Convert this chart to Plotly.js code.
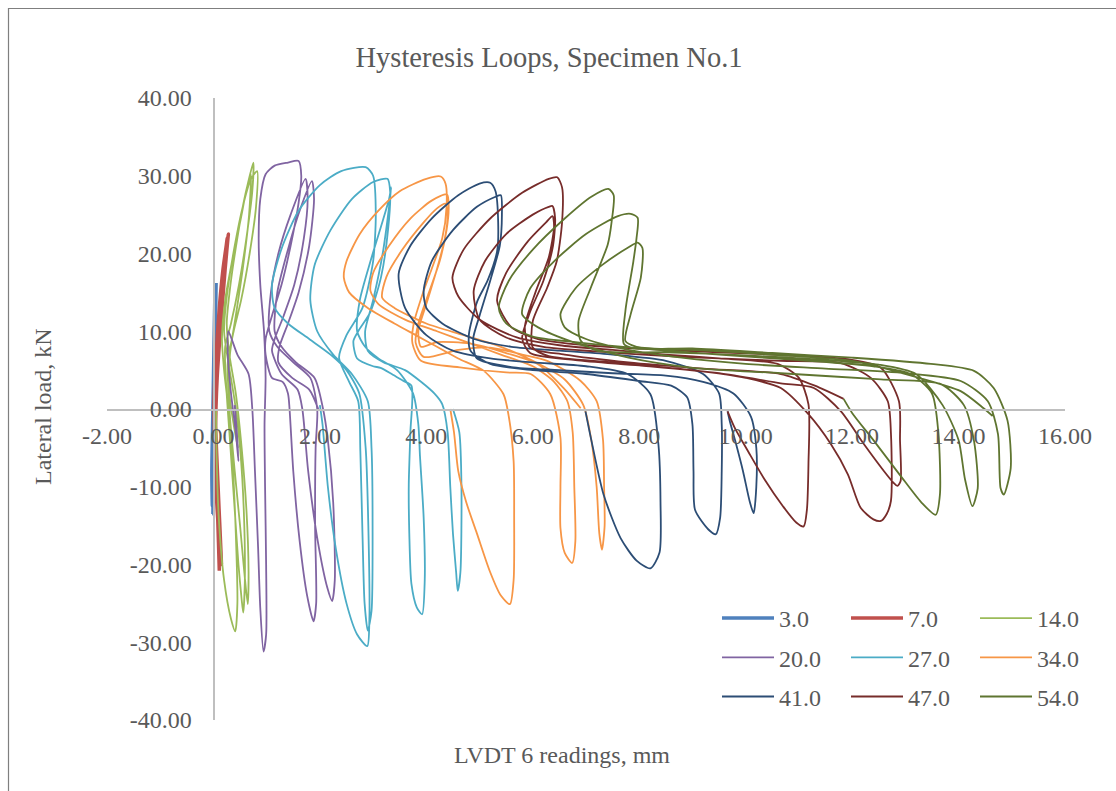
<!DOCTYPE html>
<html>
<head>
<meta charset="utf-8">
<script src="https://cdn.plot.ly/plotly-3.0.1.min.js"></script>
<style>
  html, body { margin: 0; padding: 0; background: #ffffff; }
  #chart { width: 1116px; height: 791px; }
</style>
</head>
<body>
<div id="chart"></div>
<script>
// ---- Data ----
const seriesNames = ['3.0', '7.0', '14.0', '20.0', '27.0', '34.0', '41.0', '47.0', '54.0'];

const x3 = [0.00, 0.02, 0.04, 0.05, 0.03, 0.01, -0.01, -0.02, -0.01, 0.00, 0.02, 0.04, 0.03, 0.01, -0.01, -0.03, -0.02, 0.00];
const y3 = [0.0, 6.0, 12.0, 16.2, 10.0, 3.0, -4.0, -10.0, -13.5, -6.0, 2.0, 10.0, 15.0, 8.0, 0.0, -8.0, -12.5, -3.0];

const x7 = [0.02, 0.06, 0.12, 0.19, 0.25, 0.28, 0.22, 0.14, 0.07, 0.04, 0.06, 0.09, 0.11, 0.08, 0.03, 0.01, 0.05, 0.11, 0.18, 0.24, 0.26, 0.19, 0.11, 0.05, 0.03, 0.07, 0.13, 0.15, 0.10, 0.05, 0.03];
const y7 = [0.0, 6.0, 12.0, 17.0, 20.5, 22.5, 18.0, 11.0, 4.0, -3.0, -10.0, -16.0, -20.8, -14.0, -6.0, 1.0, 7.0, 13.0, 18.0, 21.0, 22.0, 16.0, 9.0, 2.0, -6.0, -13.0, -18.5, -20.0, -12.0, -4.0, 0.0];

const x14 = [0.05, 0.06, 0.10, 0.20, 0.33, 0.41, 0.45, 0.42, 0.36, 0.28, 0.20, 0.16, 0.22, 0.35, 0.50, 0.63, 0.75, 0.73, 0.62, 0.48, 0.33, 0.22, 0.24, 0.32, 0.40, 0.47, 0.53, 0.56, 0.59, 0.57, 0.50, 0.40, 0.28, 0.20, 0.26, 0.40, 0.55, 0.70, 0.82, 0.80, 0.68, 0.52, 0.38, 0.27, 0.30, 0.40, 0.50, 0.58, 0.645, 0.66, 0.62, 0.53, 0.42, 0.30, 0.25, 0.32, 0.45, 0.58, 0.70, 0.67, 0.55, 0.42, 0.31, 0.30, 0.38, 0.46];
const y14 = [0.0, -6.0, -14.0, -22.0, -27.0, -28.6, -25.0, -16.0, -7.0, 0.0, 5.0, 9.0, 14.0, 19.0, 24.0, 28.5, 31.7, 28.0, 22.0, 16.0, 11.0, 8.0, 3.0, -5.0, -13.0, -20.0, -24.5, -26.2, -22.0, -13.0, -5.0, 1.0, 6.0, 10.0, 15.0, 21.0, 26.0, 29.5, 30.6, 26.0, 20.0, 14.0, 10.0, 6.0, 0.0, -8.0, -15.0, -21.0, -25.1, -21.0, -13.0, -5.0, 2.0, 7.0, 11.0, 16.0, 22.0, 27.0, 30.2, 25.0, 18.0, 12.0, 7.0, 2.0, -2.0, -5.0];

const x20 = [0.40, 0.44, 0.47, 0.42, 0.33, 0.27, 0.28, 0.45, 0.66, 0.73, 0.78, 0.84, 0.88, 0.94, 0.99, 0.99, 0.97, 0.96, 0.98, 0.95, 0.88, 0.85, 0.88, 0.98, 1.15, 1.40, 1.60, 1.65, 1.60, 1.45, 1.28, 1.10, 0.98, 0.98, 1.10, 1.30, 1.40, 1.43, 1.50, 1.62, 1.76, 1.88, 1.93, 1.91, 1.92, 1.95, 1.82, 1.50, 1.20, 1.05, 1.08, 1.22, 1.45, 1.73, 1.77, 1.70, 1.52, 1.32, 1.15, 1.10, 1.28, 1.58, 1.67, 1.78, 1.96, 2.14, 2.23, 2.28, 2.25, 2.15, 2.06, 1.90, 1.55, 1.28, 1.15, 1.20, 1.38, 1.62, 1.85, 1.89, 1.80, 1.60, 1.40, 1.24, 1.22, 1.48, 1.80, 1.97];
const y20 = [0.5, -3.0, -6.7, -3.0, 2.0, 7.0, 10.0, 7.0, 4.5, 0.0, -8.0, -18.0, -25.6, -31.2, -29.0, -20.0, -10.0, -2.0, 4.0, 10.0, 16.0, 22.0, 27.0, 30.2, 31.3, 31.7, 31.9, 30.0, 26.5, 21.0, 16.0, 12.0, 9.0, 7.0, 4.0, 3.5, 2.0, 0.0, -8.0, -17.0, -24.0, -27.3, -25.0, -15.0, -5.0, 0.0, 4.0, 6.0, 8.0, 10.0, 15.0, 20.0, 25.0, 29.6, 27.0, 22.0, 16.0, 12.0, 9.0, 7.5, 4.5, 2.5, 0.0, -8.0, -17.0, -23.0, -24.7, -22.0, -12.0, -4.0, 0.0, 4.0, 6.0, 8.0, 10.0, 15.0, 20.0, 25.5, 29.3, 27.0, 21.0, 15.0, 11.0, 8.0, 6.0, 4.0, 2.5, 0.0];

const x27 = [2.00, 2.05, 2.15, 2.30, 2.50, 2.70, 2.89, 2.93, 2.91, 2.86, 2.74, 2.50, 2.20, 1.80, 1.40, 1.15, 1.10, 1.30, 1.60, 2.00, 2.40, 2.86, 3.00, 3.05, 3.00, 2.80, 2.50, 2.36, 2.55, 2.72, 2.76, 2.80, 2.84, 2.90, 2.97, 2.99, 2.97, 2.90, 2.60, 2.25, 1.95, 1.82, 1.90, 2.20, 2.60, 3.00, 3.27, 3.32, 3.28, 3.15, 2.95, 2.72, 2.63, 2.70, 3.00, 3.14, 3.35, 3.57, 3.72, 3.70, 3.67, 3.68, 3.72, 3.82, 3.92, 3.97, 3.95, 3.88, 3.85, 3.75, 3.45, 3.10, 2.85, 2.70, 2.75, 2.95, 3.15, 3.30, 3.34, 3.30, 3.18, 3.00, 2.85, 2.90, 3.20, 3.60, 3.90, 4.15, 4.30, 4.40, 4.45, 4.50, 4.56, 4.59, 4.64, 4.66, 4.62, 4.50];
const y27 = [0.5, -2.0, -10.0, -18.0, -25.0, -29.0, -30.5, -27.0, -15.0, -5.0, 2.0, 5.0, 7.0, 9.0, 11.0, 13.0, 16.0, 21.0, 25.5, 28.8, 30.6, 31.1, 30.0, 25.0, 19.0, 13.0, 9.5, 6.6, 3.5, 1.0, -5.4, -16.0, -25.0, -28.5, -26.0, -15.0, -5.0, 1.0, 4.5, 7.0, 10.0, 14.0, 18.5, 23.0, 27.0, 29.2, 29.6, 28.0, 23.0, 17.0, 12.5, 10.0, 8.75, 6.5, 5.5, 5.3, 4.5, 3.6, 3.0, -3.0, -9.7, -16.0, -22.5, -25.5, -26.4, -22.0, -14.0, -6.0, -2.0, 2.0, 5.0, 6.5, 8.0, 10.0, 14.0, 19.0, 23.5, 27.0, 28.5, 26.0, 20.0, 14.0, 10.0, 7.5, 6.0, 5.0, 3.5, 2.0, 0.6, -3.0, -10.0, -16.0, -21.0, -23.4, -21.0, -10.0, -3.0, 0.0];

const x34 = [4.45, 4.52, 4.60, 4.75, 4.95, 5.20, 5.40, 5.57, 5.64, 5.65, 5.64, 5.55, 5.45, 5.08, 4.60, 4.20, 3.80, 3.40, 2.90, 2.55, 2.45, 2.50, 2.75, 3.10, 3.50, 4.00, 4.27, 4.36, 4.38, 4.30, 4.10, 3.95, 3.76, 3.74, 3.90, 4.70, 5.50, 5.96, 6.33, 6.52, 6.52, 6.52, 6.60, 6.74, 6.80, 6.78, 6.75, 6.65, 6.40, 6.00, 5.40, 4.80, 4.20, 3.60, 3.10, 2.95, 3.00, 3.30, 3.70, 4.10, 4.39, 4.42, 4.38, 4.25, 4.05, 3.85, 3.80, 3.95, 4.60, 5.20, 5.80, 6.27, 6.90, 7.20, 7.32, 7.34, 7.35, 7.30, 7.25, 7.20, 7.10, 6.95, 6.60, 6.00, 5.40, 4.70, 4.00, 3.40, 3.17, 3.25, 3.55, 3.95, 4.20, 4.36, 4.40, 4.35, 4.20, 4.00, 3.85, 3.90, 4.20, 4.83, 5.50, 6.09, 6.58, 6.90];
const y34 = [0.0, -3.0, -8.0, -12.0, -16.0, -21.0, -24.0, -25.1, -22.0, -14.0, -6.7, -1.0, 1.9, 4.9, 6.5, 8.0, 9.5, 11.0, 13.0, 15.0, 16.9, 19.0, 22.5, 25.5, 28.0, 29.6, 29.9, 29.0, 26.0, 22.0, 18.0, 15.2, 10.9, 8.4, 6.2, 5.3, 4.7, 4.5, 1.9, -3.7, -10.0, -15.3, -18.5, -19.8, -17.0, -10.0, -3.0, 1.0, 3.5, 5.5, 7.0, 8.5, 10.0, 11.5, 13.5, 15.2, 17.5, 21.0, 24.5, 26.8, 27.6, 26.0, 23.0, 19.0, 15.0, 11.0, 8.5, 6.7, 7.6, 7.9, 7.0, 6.2, 3.6, 1.0, -4.0, -10.0, -15.0, -18.1, -16.0, -10.0, -4.0, 0.5, 3.8, 6.2, 8.0, 9.5, 11.0, 13.0, 14.3, 17.0, 20.5, 24.0, 25.8, 26.4, 25.0, 22.0, 18.0, 13.5, 10.0, 8.0, 8.6, 8.4, 7.2, 5.8, 2.7, 0.1];

const x41 = [6.99, 7.10, 7.33, 7.65, 7.95, 8.21, 8.38, 8.40, 8.36, 8.21, 7.78, 7.00, 6.00, 5.20, 4.50, 4.00, 3.60, 3.48, 3.70, 4.10, 4.60, 5.00, 5.20, 5.30, 5.35, 5.33, 5.15, 4.96, 4.80, 4.83, 5.20, 6.00, 7.00, 8.00, 8.60, 8.90, 9.00, 9.02, 9.05, 9.30, 9.44, 9.52, 9.55, 9.55, 9.50, 9.20, 8.50, 7.50, 6.50, 5.60, 4.90, 4.30, 4.00, 3.95, 4.10, 4.50, 4.95, 5.30, 5.40, 5.42, 5.38, 5.20, 5.00, 4.88, 4.95, 5.60, 6.50, 7.50, 8.50, 9.20, 9.77, 10.10, 10.20, 10.20, 10.15, 10.08, 9.95, 9.80, 9.70, 9.66];
const y41 = [-0.3, -4.0, -11.0, -16.6, -19.5, -20.5, -18.5, -12.0, -4.5, 1.9, 4.5, 5.5, 6.0, 6.5, 7.5, 9.5, 13.0, 17.4, 21.0, 24.5, 27.5, 29.0, 29.1, 28.0, 24.0, 20.3, 16.5, 13.9, 9.6, 7.5, 5.8, 5.0, 4.5, 3.6, 3.0, 1.5, -2.0, -8.0, -13.0, -15.5, -16.1, -14.0, -8.0, -2.0, 2.0, 4.5, 6.2, 7.0, 7.5, 8.0, 9.0, 11.0, 13.0, 15.2, 19.0, 23.0, 26.0, 27.3, 27.5, 25.0, 21.0, 16.5, 12.0, 9.0, 6.5, 5.4, 5.0, 4.6, 4.3, 3.5, 2.0, -1.0, -5.0, -10.0, -13.4, -12.0, -8.0, -4.0, -1.5, -0.3];

const x47 = [9.66, 9.80, 10.05, 10.35, 10.70, 10.95, 11.09, 11.15, 11.18, 11.18, 11.00, 10.60, 9.50, 8.50, 7.50, 6.50, 5.70, 5.00, 4.60, 4.49, 4.70, 5.20, 5.80, 6.30, 6.46, 6.55, 6.55, 6.45, 6.27, 6.00, 6.00, 6.30, 7.50, 9.00, 10.00, 10.66, 11.17, 11.60, 11.92, 12.16, 12.40, 12.54, 12.65, 12.73, 12.73, 12.67, 12.35, 11.79, 10.66, 9.50, 8.30, 7.20, 6.20, 5.50, 5.00, 4.89, 5.10, 5.50, 6.00, 6.30, 6.37, 6.42, 6.38, 6.20, 5.95, 5.80, 5.95, 6.80, 8.00, 9.50, 10.66, 11.28, 11.79, 12.22, 12.60, 12.78, 12.85, 12.91, 12.90, 12.88, 12.54, 11.92, 10.80, 9.50, 8.20, 7.00, 6.10, 5.60, 5.33, 5.50, 5.90, 6.25, 6.37, 6.40, 6.30, 6.05, 5.85, 5.95, 6.60, 7.80, 9.20, 10.66, 11.30, 11.84];
const y47 = [-0.3, -2.5, -5.5, -9.0, -12.5, -14.6, -15.1, -13.0, -7.0, 0.6, 4.0, 5.8, 6.5, 7.0, 7.6, 8.2, 9.2, 11.5, 14.5, 16.9, 20.5, 24.5, 27.8, 29.6, 29.8, 28.5, 24.0, 19.0, 15.6, 11.3, 7.9, 6.8, 6.0, 5.0, 4.0, 2.7, -0.6, -4.5, -8.4, -12.7, -14.2, -14.4, -13.5, -11.8, -3.2, 1.0, 4.0, 5.9, 6.2, 6.5, 6.9, 7.4, 8.0, 9.2, 11.5, 15.2, 19.0, 22.5, 25.0, 26.0, 26.1, 24.5, 21.0, 16.5, 12.5, 9.1, 7.2, 6.3, 5.6, 4.6, 3.3, 2.7, -0.3, -4.5, -8.0, -9.5, -9.9, -9.3, -4.0, 1.0, 5.3, 6.4, 6.9, 7.3, 7.7, 8.2, 9.0, 10.5, 13.9, 17.5, 21.5, 24.0, 24.8, 23.5, 19.5, 15.0, 10.5, 7.9, 7.0, 6.0, 5.2, 4.5, 3.0, 1.3];

const x54 = [11.84, 12.00, 12.40, 12.90, 13.30, 13.57, 13.65, 13.62, 13.50, 13.10, 12.40, 11.00, 9.50, 8.00, 6.80, 6.00, 5.50, 5.36, 5.55, 6.00, 6.60, 7.10, 7.42, 7.52, 7.48, 7.41, 7.09, 6.86, 6.90, 7.20, 8.50, 10.00, 11.50, 12.50, 13.20, 13.70, 14.00, 14.12, 14.26, 14.36, 14.29, 14.10, 13.67, 12.54, 10.66, 9.00, 7.80, 6.80, 6.10, 5.80, 5.95, 6.40, 7.00, 7.60, 7.84, 7.97, 7.95, 7.89, 7.74, 7.71, 7.90, 9.00, 10.50, 12.00, 13.48, 14.29, 14.66, 14.92, 14.98, 14.85, 14.79, 14.74, 14.55, 14.04, 13.00, 11.50, 10.00, 8.80, 7.80, 7.00, 6.60, 6.52, 6.80, 7.30, 7.80, 7.97, 8.06, 8.03, 7.84, 7.74, 7.95, 9.00, 10.50, 12.00, 13.16, 14.04, 14.47, 14.64];
const y54 = [1.3, -0.5, -4.0, -8.5, -12.0, -13.6, -11.0, -3.0, 2.0, 4.5, 5.5, 6.3, 7.0, 7.8, 8.6, 9.3, 11.0, 13.0, 16.5, 20.5, 24.5, 27.3, 28.3, 27.5, 24.0, 21.2, 15.6, 11.3, 8.8, 7.5, 7.3, 6.9, 6.3, 5.7, 4.5, 0.5, -4.0, -9.0, -12.5, -10.2, -4.1, 0.5, 3.2, 3.8, 4.6, 5.3, 6.6, 8.5, 10.5, 12.2, 15.5, 19.0, 22.5, 24.8, 25.1, 24.6, 22.0, 19.0, 12.6, 8.4, 7.8, 7.8, 7.2, 6.6, 5.8, 4.9, 2.7, -1.5, -7.6, -11.0, -10.2, -3.2, 1.0, 3.6, 4.6, 5.2, 5.8, 6.6, 7.6, 9.0, 10.5, 12.2, 15.5, 18.5, 20.8, 21.4, 20.7, 16.9, 12.2, 8.75, 8.0, 7.6, 7.0, 6.2, 4.2, 2.3, 0.1, -0.9];

const xTickVals = [-2, 0, 2, 4, 6, 8, 10, 12, 14, 16];
const yTickVals = [-40, -30, -20, -10, 0, 10, 20, 30, 40];
const xTickText = xTickVals.map(v => v.toFixed(2));
const yTickText = yTickVals.map(v => v.toFixed(2));

// ---- Styling ----
const FONT = '"Liberation Serif", "Times New Roman", Times, serif';
const TXT = '#595959';
const AXIS = '#BFBFBF';

const xs = [x3, x7, x14, x20, x27, x34, x41, x47, x54];
const ys = [y3, y7, y14, y20, y27, y34, y41, y47, y54];
const colors = ['#4F81BD', '#C0504D', '#9BBB59', '#8064A2', '#4BACC6', '#F79646', '#2C4D75', '#772C2A', '#5F7530'];
const widths = [3.5, 3.5, 1.8, 1.8, 1.8, 1.8, 1.8, 1.8, 1.8];
const legendIds = ['legend', 'legend2', 'legend3', 'legend', 'legend2', 'legend3', 'legend', 'legend2', 'legend3'];

const traces = seriesNames.map((nm, i) => ({
  type: 'scatter',
  mode: 'lines',
  name: nm,
  x: xs[i],
  y: ys[i],
  line: { color: colors[i], width: widths[i], shape: 'spline', smoothing: 0.7 },
  legend: legendIds[i],
  legendgroup: 'g' + i,
  hoverinfo: 'skip'
}));

function legendCfg(px) {
  return {
    x: px / 1116, xref: 'container', xanchor: 'left',
    y: 1 - 596 / 791, yref: 'container', yanchor: 'top',
    orientation: 'v',
    traceorder: 'grouped',
    tracegroupgap: 5,
    itemwidth: 52,
    bgcolor: 'rgba(0,0,0,0)',
    borderwidth: 0,
    font: { family: FONT, size: 24, color: TXT }
  };
}

const layout = {
  width: 1116,
  height: 791,
  margin: { l: 107, r: 51, t: 98, b: 71, pad: 0, autoexpand: false },
  paper_bgcolor: '#ffffff',
  plot_bgcolor: 'rgba(0,0,0,0)',
  font: { family: FONT, size: 24, color: TXT },
  showlegend: true,
  title: {
    text: 'Hysteresis Loops, Specimen No.1',
    font: { family: FONT, size: 28.5, color: TXT },
    x: 549 / 1116, xanchor: 'center', xref: 'container',
    y: 1 - 57 / 791, yanchor: 'middle', yref: 'container'
  },
  xaxis: {
    range: [-2, 16],
    tickvals: xTickVals,
    ticktext: xTickText,
    showgrid: false,
    zeroline: false,
    showline: true,
    linecolor: AXIS,
    linewidth: 1.75,
    ticks: '',
    anchor: 'free',
    position: 0.5,
    ticklabelstandoff: 4,
    tickfont: { family: FONT, size: 24, color: TXT },
    fixedrange: true
  },
  yaxis: {
    range: [-40, 40],
    tickvals: yTickVals,
    ticktext: yTickText,
    showgrid: false,
    zeroline: false,
    showline: true,
    linecolor: AXIS,
    linewidth: 1.75,
    ticks: '',
    anchor: 'free',
    position: 2 / 18,
    ticklabelstandoff: 17,
    tickfont: { family: FONT, size: 24, color: TXT },
    fixedrange: true
  },
  legend: legendCfg(717),
  legend2: legendCfg(846),
  legend3: legendCfg(975),
  annotations: [
    {
      text: 'Lateral load, kN', textangle: -90,
      xref: 'paper', yref: 'paper',
      x: (43 - 107) / 958, y: (720 - 407) / 622,
      xanchor: 'center', yanchor: 'middle', showarrow: false,
      font: { family: FONT, size: 24, color: TXT }
    },
    {
      text: 'LVDT 6 readings, mm',
      xref: 'paper', yref: 'paper',
      x: (562 - 107) / 958, y: (720 - 755) / 622,
      xanchor: 'center', yanchor: 'middle', showarrow: false,
      font: { family: FONT, size: 24, color: TXT }
    }
  ],
  shapes: [
    {
      type: 'rect', xref: 'paper', yref: 'paper', layer: 'below',
      x0: (8.5 - 107) / 958, x1: (1130 - 107) / 958,
      y0: (720 - 800) / 622, y1: (720 - 8.5) / 622,
      line: { color: '#7F7F7F', width: 1.2 },
      fillcolor: 'rgba(0,0,0,0)'
    }
  ]
};

Plotly.newPlot('chart', traces, layout, { staticPlot: true, displayModeBar: false });
</script>
</body>
</html>
